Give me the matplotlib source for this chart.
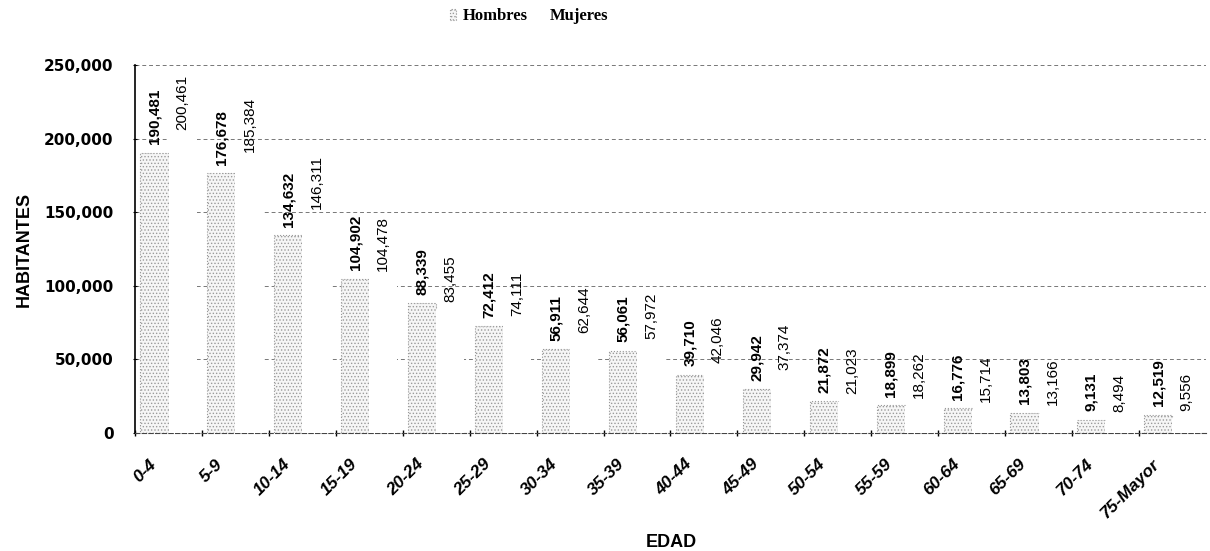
import matplotlib.pyplot as plt
import numpy as np

edades = ['0-4', '5-9', '10-14', '15-19', '20-24', '25-29', '30-34', '35-39',
          '40-44', '45-49', '50-54', '55-59', '60-64', '65-69', '70-74', '75-Mayor']
hombres = [190481, 176678, 134632, 104902, 88339, 72412, 56911, 56061,
           39710, 29942, 21872, 18899, 16776, 13803, 9131, 12519]
mujeres = [200461, 185384, 146311, 104478, 83455, 74111, 62644, 57972,
           42046, 37374, 21023, 18262, 15714, 13166, 8494, 9556]

plt.rcParams['hatch.color'] = '#9a9a9a'
plt.rcParams['hatch.linewidth'] = 0.6

fig = plt.figure(figsize=(12.1, 5.51), dpi=100)
ax = fig.add_axes([0.1116, 0.214, 0.885, 0.668])

x = np.arange(len(edades))
w = 0.42
b1 = ax.bar(x + 0.5 - w, hombres, w, align='edge', facecolor='#f6f6f6',
            edgecolor='#9a9a9a', hatch='.....', linestyle=':', linewidth=0.8,
            zorder=3, label='Hombres')
b2 = ax.bar(x + 0.5, mujeres, w, align='edge', facecolor='white',
            edgecolor='white', linewidth=0, zorder=3, label='Mujeres')

for i in range(len(edades)):
    ax.annotate(f'{hombres[i]:,}', (x[i] + 0.5 - w / 2, hombres[i]),
                xytext=(0, 6), textcoords='offset points', rotation=90,
                ha='center', va='bottom', fontsize=11, fontweight='bold',
                family='Liberation Sans', zorder=5)
    ax.annotate(f'{mujeres[i]:,}', (x[i] + 0.5 + w / 2, mujeres[i]),
                xytext=(0, 6), textcoords='offset points', rotation=90,
                ha='center', va='bottom', fontsize=11,
                family='Liberation Sans', zorder=5)

ax.set_xlim(0, len(edades))
ax.set_ylim(0, 250000)
ax.set_yticks(range(0, 250001, 50000))
ax.set_yticklabels([f'{v:,}' for v in range(0, 250001, 50000)],
                   fontsize=11, fontweight='bold')
ax.yaxis.grid(True, linestyle=(0, (4, 3)), color='#777777', linewidth=0.7, zorder=0)

# category labels hang down-left of the group centre
ax.set_xticks(x, minor=True)
ax.set_xticks(x + 0.2)
ax.set_xticklabels(edades, rotation=45, ha='right', va='top', rotation_mode='anchor',
                   fontsize=12.5, fontweight='bold', style='italic',
                   family='Liberation Sans')
ax.tick_params(axis='x', which='major', length=0, pad=17)
ax.tick_params(axis='x', which='minor', length=5, direction='inout', width=1)
ax.tick_params(axis='y', length=3, direction='inout', pad=14)

for s in ['top', 'right']:
    ax.spines[s].set_visible(False)
ax.spines['bottom'].set_linestyle((0, (4, 2)))
ax.spines['bottom'].set_color('#444444')
ax.spines['left'].set_linewidth(1.2)

ax.set_ylabel('HABITANTES', fontsize=13, fontweight='bold', family='Liberation Sans',
              va='center')
ax.yaxis.set_label_coords(-0.103, 0.5)
ax.set_xlabel('EDAD', fontsize=13, fontweight='bold', family='Liberation Sans',
              va='center')
ax.xaxis.set_label_coords(0.501, -0.296)

leg = fig.legend(handles=[b1, b2], loc='upper center', bbox_to_anchor=(0.437, 1.012),
                 ncol=2, frameon=False, handlelength=0.4, handleheight=0.7,
                 columnspacing=0.5, handletextpad=0.4,
                 prop={'family': 'Liberation Serif', 'weight': 'bold', 'size': 12})

fig.savefig('out.png', dpi=100)
